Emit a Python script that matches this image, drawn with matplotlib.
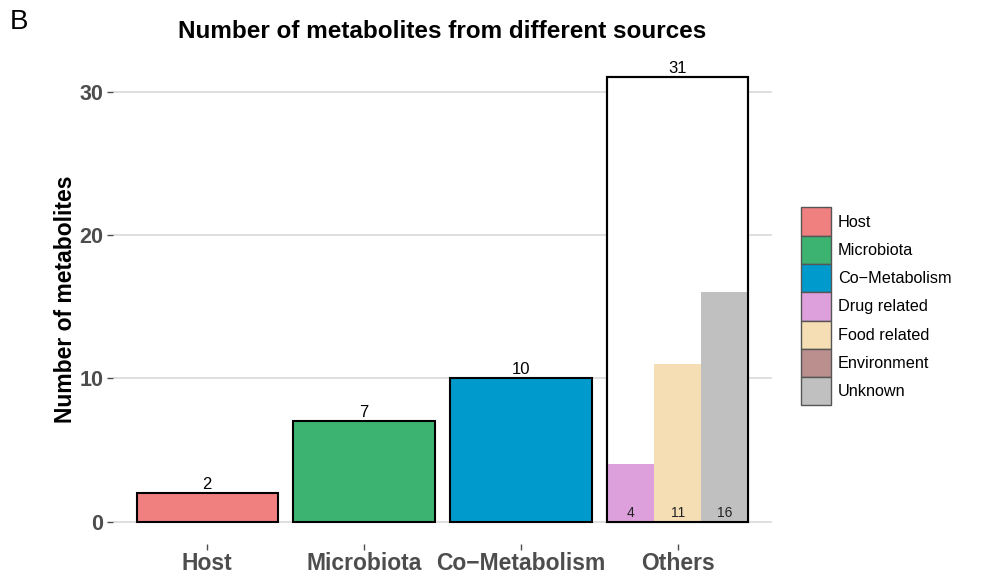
import matplotlib
matplotlib.use("Agg")
import matplotlib.pyplot as plt
import matplotlib.patches as mpatch

plt.rcParams["font.family"] = ["Liberation Sans", "DejaVu Sans"]

# main categories
categories = ["Host", "Microbiota", "Co\u2212Metabolism", "Others"]
counts = [2, 7, 10, 31]
main_colors = ["#F08080", "#3CB371", "#009ACD", "#FFFFFF"]

# breakdown inside "Others"
other_sources = ["Drug related", "Food related", "Unknown"]
other_counts = [4, 11, 16]
other_colors = ["#DDA0DD", "#F5DEB3", "#C0C0C0"]

legend_labels = ["Host", "Microbiota", "Co\u2212Metabolism", "Drug related",
                 "Food related", "Environment", "Unknown"]
legend_colors = ["#F08080", "#3CB371", "#009ACD", "#DDA0DD",
                 "#F5DEB3", "#BC8F8F", "#C0C0C0"]

fig = plt.figure(figsize=(9.82, 5.76), dpi=100)
ax = fig.add_axes([113 / 982, 1 - 544 / 576, (772 - 113) / 982, (544 - 55) / 576])

x = list(range(1, len(categories) + 1))
ax.bar(x, counts, width=0.9, color=main_colors, edgecolor="black", linewidth=1.5, zorder=2)
for xi, c in zip(x, counts):
    ax.text(xi, c + 0.1, str(c), ha="center", va="bottom", fontsize=12, color="black")

# sub-bars for Others
ox = [4 - 0.3, 4, 4 + 0.3]
ax.bar(ox, other_counts, width=0.3, color=other_colors, edgecolor="none", zorder=3)
for xi, c in zip(ox, other_counts):
    ax.text(xi, 0.15, str(c), ha="center", va="bottom", fontsize=10, color="#222222", zorder=4)
# redraw outline of Others bar over sub-bars
ax.bar([4], [31], width=0.9, color="none", edgecolor="black", linewidth=1.5, zorder=4)

ax.set_xlim(0.4, 4.6)
ax.set_ylim(-1.55, 32.55)
ax.set_yticks([0, 10, 20, 30])
ax.set_xticks(x)
ax.set_xticklabels(categories)
ax.grid(axis="y", color="#D9D9D9", linewidth=1.2, zorder=0)
ax.set_axisbelow(True)
for s in ax.spines.values():
    s.set_visible(False)
ax.tick_params(axis="both", colors="#4D4D4D", length=4, width=1)
ax.tick_params(axis="y", labelsize=15.5, pad=3)
ax.tick_params(axis="x", labelsize=16.5, pad=2)
for lab in ax.get_xticklabels() + ax.get_yticklabels():
    lab.set_fontweight("bold")
    lab.set_color("#4D4D4D")
ax.set_ylabel("Number of metabolites", fontsize=16.5, fontweight="bold", labelpad=2)
ax.set_title("Number of metabolites from different sources", fontsize=17.5,
             fontweight="bold", pad=12)

fig.text(10 / 982, 1 - 22 / 576, "B", fontsize=20, va="center", ha="left")

handles = [mpatch.Patch(facecolor=c, edgecolor="#555555", linewidth=1, label=l)
           for l, c in zip(legend_labels, legend_colors)]
fig.legend(handles=handles, loc="upper left", bbox_to_anchor=(794 / 982, 1 - 201 / 576),
           frameon=False, fontsize=11.7, handlelength=1.9, handleheight=2.3,
           labelspacing=0.0, handletextpad=0.4, borderaxespad=0)

fig.savefig("out.png", dpi=100)
